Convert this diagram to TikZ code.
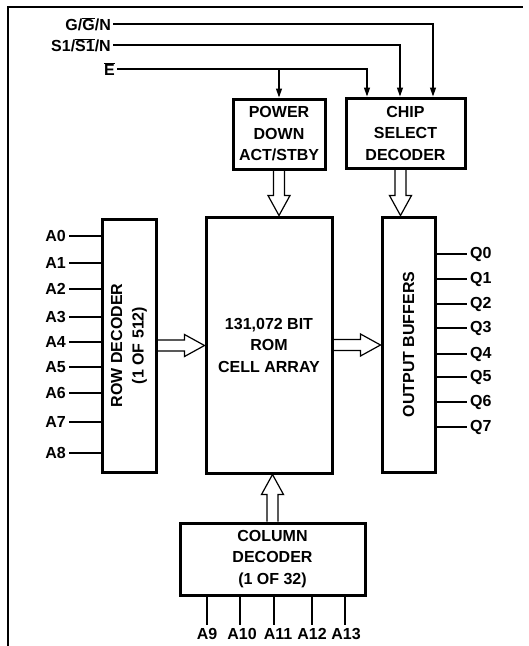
\documentclass[tikz,border=0pt]{standalone}
\usepackage{fontspec}
\setmainfont{Liberation Sans}
\usetikzlibrary{calc,arrows.meta}
\newcommand\ovl[1]{$\overline{\hbox{#1}}$}
\newcommand\fatarr[2]{%
  \coordinate (fb) at ($(#2)!20pt!(#1)$);
  \draw[hol] ($(#1)!5.5pt!90:(#2)$) -- ($(fb)!5.5pt!90:(#2)$) -- ($(fb)!11pt!90:(#2)$) -- (#2)
    -- ($(fb)!11pt!-90:(#2)$) -- ($(fb)!5.5pt!-90:(#2)$) -- ($(#1)!5.5pt!-90:(#2)$);}
\begin{document}
\begin{tikzpicture}[x=1pt,y=-1pt,
  txt/.style={font=\fontsize{16}{21.5}\selectfont\bfseries},
  box/.style={draw, line width=3pt, align=center, inner sep=0pt, txt},
  lbl/.style={txt, inner sep=2pt},
  sig/.style={line width=1.2pt, -{Triangle[length=9pt,width=6pt]}},
  pin/.style={line width=1.2pt},
  hol/.style={line width=1.2pt, line join=miter}]
\useasboundingbox (0,0) rectangle (529,646);
% frame
\draw[line width=1.4pt] (8,646) -- (8,7) -- (523,7);
% boxes
\node[box, minimum width=92pt, minimum height=70pt] (pd) at (279,134) {POWER\\DOWN\\ACT/STBY};
\node[box, minimum width=119pt, minimum height=70pt] (csd) at (405.5,133) {CHIP\\SELECT\\DECODER};
\node[box, minimum width=126pt, minimum height=256pt] (main) at (269,345) {131,072 BIT\\ROM\\CELL ARRAY};
\node[box, minimum width=54pt, minimum height=253pt] (row) at (129,345.5) {};
\node[txt, rotate=90, align=center] (rowt) at (row.center) {ROW DECODER\\(1 OF 512)};
\node[box, minimum width=53pt, minimum height=255pt] (ob) at (408.5,344.5) {};
\node[txt, rotate=90] (obt) at (ob.center) {OUTPUT BUFFERS};
\node[box, minimum width=185pt, minimum height=72pt] (col) at (272.5,559) {COLUMN\\DECODER\\(1 OF 32)};
% control signals
\node[lbl, anchor=east] (g) at (113,24) {G/\ovl{G}/N};
\node[lbl, anchor=east] (s) at (113,45) {S1/\ovl{S1}/N};
\node[lbl, anchor=east] (e) at (117,69) {\ovl{E}};
\coordinate (gx) at (433,0);
\coordinate (sx) at (400,0);
\coordinate (ex) at (367,0);
\draw[sig] (g.east) -| (gx |- csd.north);
\draw[sig] (s.east) -| (sx |- csd.north);
\draw[sig] (e.east) -| (ex |- csd.north);
\draw[sig] (e.east -| pd.north) -- (pd.north);
% hollow arrows
\coordinate (t1) at (pd.south |- main.north);
\fatarr{pd.south}{t1}
\coordinate (c2) at ($(csd.south)+(-5,0)$);
\coordinate (t2) at (c2 |- ob.north);
\fatarr{c2}{t2}
\coordinate (t3) at (row.east -| main.west);
\fatarr{row.east}{t3}
\coordinate (t4) at (main.east -| ob.west);
\fatarr{main.east}{t4}
\coordinate (t5) at (col.north |- main.south);
\fatarr{col.north}{t5}
% address inputs A0-A8
\foreach \n/\y in {0/236,1/263,2/289,3/317,4/342,5/367,6/393,7/422,8/453}{
  \node[lbl, anchor=east] (a\n) at (68,\y) {A\n};
  \draw[pin] (a\n.east) ++(1,0) -- (a\n.east -| row.west);
}
% outputs Q0-Q7
\foreach \n/\y in {0/254,1/279,2/304,3/328,4/354,5/377,6/402,7/427}{
  \coordinate (qe\n) at (467,\y);
  \node[lbl, anchor=west] (q\n) at (468,\y) {Q\n};
  \draw[pin] (qe\n -| ob.east) -- (qe\n);
}
% column address
\foreach \n/\x/\lx in {9/207/207,10/240/242,11/274/278,12/312/312,13/345/346}{
  \coordinate (ce\n) at (\x,625);
  \node[lbl, anchor=north, inner sep=1pt] (b\n) at (\lx,627) {A\n};
  \draw[pin] (ce\n |- col.south) -- (ce\n);
}
\end{tikzpicture}
\end{document}
